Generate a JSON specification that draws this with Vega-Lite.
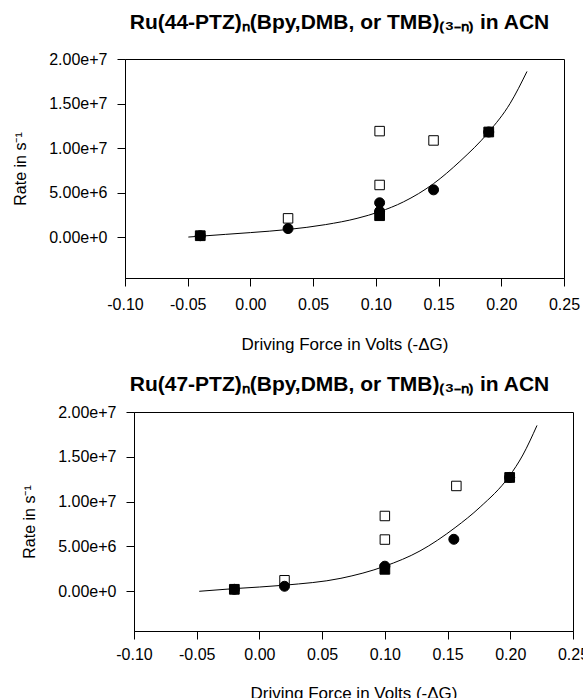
{
  "$schema": "https://vega.github.io/schema/vega-lite/v6.json",
  "padding": {"left": 11, "top": 11, "right": 0, "bottom": 0},
  "config": {
    "font": "Liberation Sans",
    "view": {"stroke": "black", "strokeWidth": 1},
    "axis": {
      "grid": false,
      "domainColor": "black",
      "tickColor": "black",
      "labelColor": "black",
      "titleColor": "black",
      "labelFont": "Liberation Sans",
      "titleFont": "Liberation Sans",
      "labelFontSize": 16,
      "titleFontWeight": "normal",
      "tickSize": 8,
      "labelPadding": 10,
      "labelFlush": false,
      "labelOverlap": false
    },
    "title": {"fontSize": 21, "fontWeight": "bold", "color": "black", "font": "Liberation Sans", "baseline": "alphabetic", "anchor": "middle"}
  },
  "datasets": {
    "top_curve": [
      {"dg": -0.0495, "rate": 0},
      {"dg": -0.02, "rate": 300000},
      {"dg": 0.0, "rate": 500000},
      {"dg": 0.03, "rate": 850000},
      {"dg": 0.06, "rate": 1400000},
      {"dg": 0.085, "rate": 2100000},
      {"dg": 0.103, "rate": 2850000},
      {"dg": 0.122, "rate": 3950000},
      {"dg": 0.146, "rate": 6000000},
      {"dg": 0.167, "rate": 8500000},
      {"dg": 0.19, "rate": 11800000},
      {"dg": 0.207, "rate": 15000000},
      {"dg": 0.2205, "rate": 18600000}
    ],
    "top_points": [
      {"dg": 0.030, "rate": 2100000, "series": "open"},
      {"dg": 0.103, "rate": 11900000, "series": "open"},
      {"dg": 0.103, "rate": 5850000, "series": "open"},
      {"dg": 0.146, "rate": 10850000, "series": "open"},
      {"dg": -0.040, "rate": 150000, "series": "sq"},
      {"dg": 0.103, "rate": 2400000, "series": "sq"},
      {"dg": 0.190, "rate": 11800000, "series": "sq"},
      {"dg": -0.040, "rate": 150000, "series": "circ"},
      {"dg": 0.030, "rate": 950000, "series": "circ"},
      {"dg": 0.103, "rate": 3850000, "series": "circ"},
      {"dg": 0.103, "rate": 2900000, "series": "circ"},
      {"dg": 0.146, "rate": 5300000, "series": "circ"},
      {"dg": 0.190, "rate": 11800000, "series": "circ"}
    ],
    "bottom_curve": [
      {"dg": -0.048, "rate": 0},
      {"dg": -0.02, "rate": 300000},
      {"dg": 0.02, "rate": 680000},
      {"dg": 0.065, "rate": 1450000},
      {"dg": 0.10, "rate": 2800000},
      {"dg": 0.128, "rate": 4500000},
      {"dg": 0.156, "rate": 7100000},
      {"dg": 0.176, "rate": 9400000},
      {"dg": 0.199, "rate": 12800000},
      {"dg": 0.21, "rate": 15200000},
      {"dg": 0.2213, "rate": 18500000}
    ],
    "bottom_points": [
      {"dg": 0.020, "rate": 1230000, "series": "open"},
      {"dg": 0.100, "rate": 8400000, "series": "open"},
      {"dg": 0.100, "rate": 5770000, "series": "open"},
      {"dg": 0.157, "rate": 11750000, "series": "open"},
      {"dg": -0.020, "rate": 220000, "series": "sq"},
      {"dg": 0.100, "rate": 2450000, "series": "sq"},
      {"dg": 0.1995, "rate": 12700000, "series": "sq"},
      {"dg": -0.020, "rate": 220000, "series": "circ"},
      {"dg": 0.020, "rate": 560000, "series": "circ"},
      {"dg": 0.100, "rate": 2800000, "series": "circ"},
      {"dg": 0.155, "rate": 5800000, "series": "circ"},
      {"dg": 0.1995, "rate": 12700000, "series": "circ"}
    ]
  },
  "columns": 1,
  "align": "none",
  "spacing": 20,
  "concat": [
    {
      "spacing": 0,
      "hconcat": [
        {
          "width": 1,
          "height": 1,
          "view": {"stroke": null},
          "data": {"values": []},
          "mark": {"type": "point"},
          "encoding": {}
        },
        {
          "width": 439,
          "height": 219,
          "title": {"text": "Ru(44-PTZ)ₙ(Bpy,DMB, or TMB)₍₃₋ₙ₎ in ACN", "offset": 18, "dx": -5},
          "encoding": {
            "x": {
              "field": "dg", "type": "quantitative",
              "scale": {"domain": [-0.1, 0.25], "nice": false, "zero": false},
              "axis": {
                "title": "Driving Force in Volts (-ΔG)",
                "titleFontSize": 17, "titlePadding": 24,
                "values": [-0.1, -0.05, 0, 0.05, 0.1, 0.15, 0.2, 0.25],
                "labelExpr": "replace(format(datum.value, '.2f'), '\u2212', '-')"
              }
            },
            "y": {
              "field": "rate", "type": "quantitative",
              "scale": {"domain": [-4600000, 20000000], "nice": false, "zero": false},
              "axis": {
                "title": "Rate in s⁻¹",
                "titleFontSize": 16, "titlePadding": 20,
                "values": [0, 5000000, 10000000, 15000000, 20000000],
                "format": ".2e"
              }
            }
          },
          "layer": [
            {
              "data": {"name": "top_curve"},
              "mark": {"type": "line", "color": "black", "strokeWidth": 1, "interpolate": "monotone"}
            },
            {
              "data": {"name": "top_points"},
              "mark": {"type": "point", "filled": true, "stroke": "black", "strokeWidth": 1, "opacity": 1},
              "encoding": {
                "shape": {"field": "series", "type": "nominal", "scale": {"domain": ["open", "sq", "circ"], "range": ["square", "square", "circle"]}, "legend": null},
                "fill": {"field": "series", "type": "nominal", "scale": {"domain": ["open", "sq", "circ"], "range": ["white", "black", "black"]}, "legend": null},
                "size": {"field": "series", "type": "nominal", "scale": {"domain": ["open", "sq", "circ"], "range": [90, 100, 121]}, "legend": null}
              }
            }
          ]
        }
      ]
    },
    {
      "spacing": 9,
      "hconcat": [
        {
          "width": 1,
          "height": 1,
          "view": {"stroke": null},
          "data": {"values": []},
          "mark": {"type": "point"},
          "encoding": {}
        },
        {
          "width": 439,
          "height": 219,
          "title": {"text": "Ru(47-PTZ)ₙ(Bpy,DMB, or TMB)₍₃₋ₙ₎ in ACN", "offset": 9, "dx": -14},
          "encoding": {
            "x": {
              "field": "dg", "type": "quantitative",
              "scale": {"domain": [-0.1, 0.25], "nice": false, "zero": false},
              "axis": {
                "title": "Driving Force in Volts (-ΔG)",
                "titleFontSize": 17, "titlePadding": 23, "labelPadding": 7,
                "values": [-0.1, -0.05, 0, 0.05, 0.1, 0.15, 0.2, 0.25],
                "labelExpr": "replace(format(datum.value, '.2f'), '\u2212', '-')"
              }
            },
            "y": {
              "field": "rate", "type": "quantitative",
              "scale": {"domain": [-4430000, 20000000], "nice": false, "zero": false},
              "axis": {
                "title": "Rate in s⁻¹",
                "titleFontSize": 16, "titlePadding": 20,
                "values": [0, 5000000, 10000000, 15000000, 20000000],
                "format": ".2e"
              }
            }
          },
          "layer": [
            {
              "data": {"name": "bottom_curve"},
              "mark": {"type": "line", "color": "black", "strokeWidth": 1, "interpolate": "monotone"}
            },
            {
              "data": {"name": "bottom_points"},
              "mark": {"type": "point", "filled": true, "stroke": "black", "strokeWidth": 1, "opacity": 1},
              "encoding": {
                "shape": {"field": "series", "type": "nominal", "scale": {"domain": ["open", "sq", "circ"], "range": ["square", "square", "circle"]}, "legend": null},
                "fill": {"field": "series", "type": "nominal", "scale": {"domain": ["open", "sq", "circ"], "range": ["white", "black", "black"]}, "legend": null},
                "size": {"field": "series", "type": "nominal", "scale": {"domain": ["open", "sq", "circ"], "range": [90, 100, 121]}, "legend": null}
              }
            }
          ]
        }
      ]
    }
  ]
}
